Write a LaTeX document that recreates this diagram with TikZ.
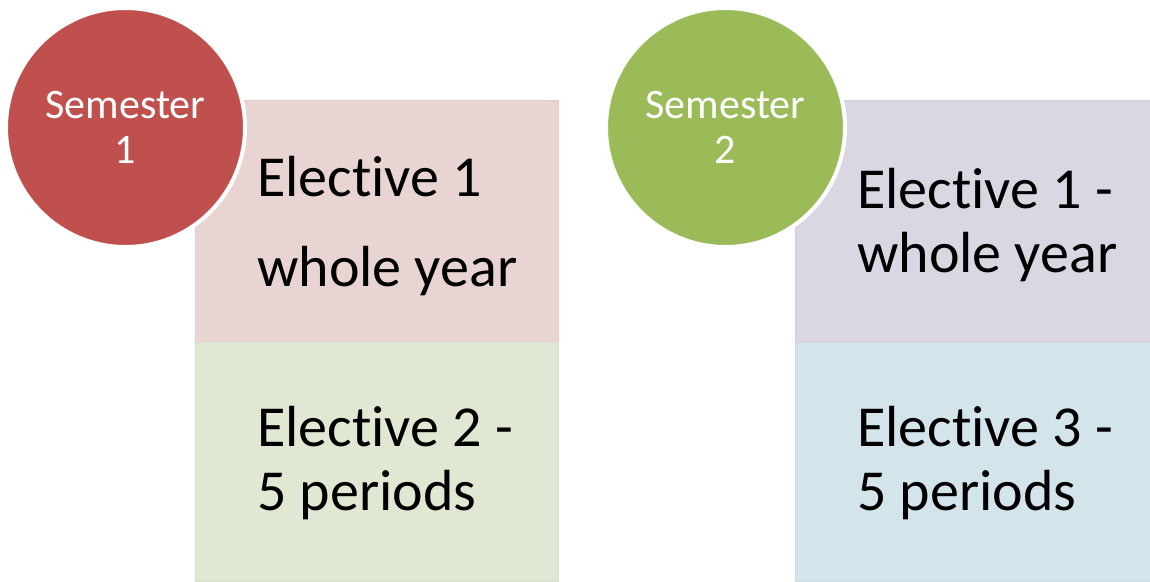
\documentclass[tikz,border=0pt]{standalone}
\usepackage{fontspec}
\setmainfont{Carlito}[Ligatures=NoCommon]
\definecolor{semred}{HTML}{C0504D}
\definecolor{semgreen}{HTML}{9BBB59}
\definecolor{boxred}{HTML}{E9D4D4}
\definecolor{boxgreen}{HTML}{E0E7D3}
\definecolor{boxpurple}{HTML}{DAD6E2}
\definecolor{boxblue}{HTML}{D3E4EB}

\begin{document}
\begin{tikzpicture}[x=1pt, y=-1pt,
    box/.style={rectangle, fill=#1, draw=#1!96!black, line width=0.6pt, inner sep=0pt, anchor=north west},
    sem/.style={circle, fill=#1, draw=white, line width=4pt, inner sep=0pt, minimum size=239pt},
    semtext/.style={text=white, font=\fontsize{42}{45}\selectfont, align=center, anchor=base, inner sep=0pt},
    eltext/.style={font=\fontsize{58}{64}\selectfont, align=left, anchor=base west, inner sep=0pt}]
  \useasboundingbox (0,0) rectangle (1150,581);

  % left column
  \node[box=boxred, minimum width=363pt, minimum height=242pt] (a1) at (195,100) {};
  \node[box=boxgreen, minimum width=363pt, minimum height=239pt] (a2) at (195,342) {};
  \node[sem=semred] (s1) at (125.5,127.5) {};
  \node[semtext] (t1) at (125.5,163) {Semester\\1};
  \node[eltext] (e1) at (257,286) {Elective 1\\[26pt]whole year};
  \node[eltext] (e2) at (257,510) {Elective 2 -\\5 periods};

  % right column
  \node[box=boxpurple, minimum width=356pt, minimum height=242pt] (b1) at (795,100) {};
  \node[box=boxblue, minimum width=356pt, minimum height=239pt] (b2) at (795,342) {};
  \node[sem=semgreen] (s2) at (725.5,127.5) {};
  \node[semtext] (t2) at (725.5,163) {Semester\\2};
  \node[eltext] (e3) at (857,272) {Elective 1 -\\whole year};
  \node[eltext] (e4) at (857,510) {Elective 3 -\\5 periods};
\end{tikzpicture}
\end{document}
